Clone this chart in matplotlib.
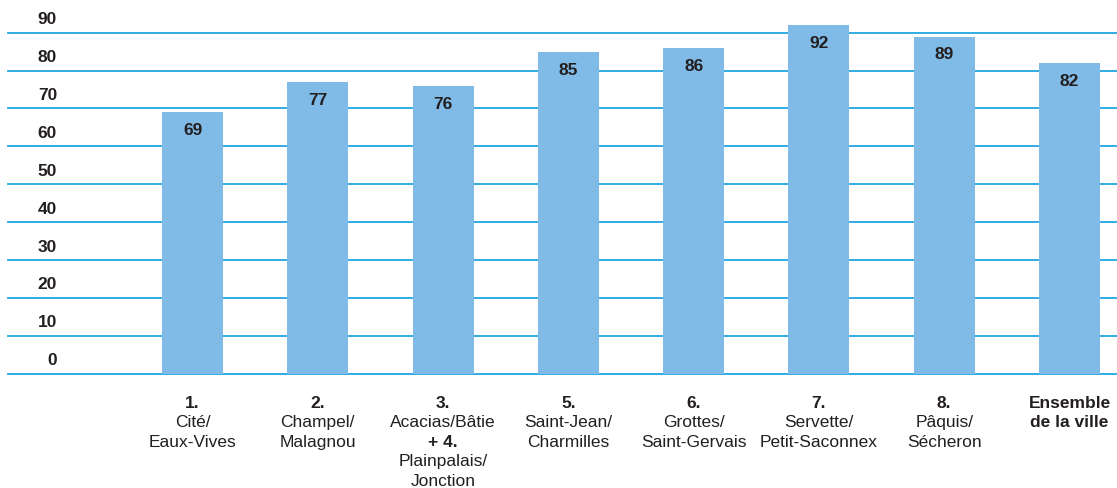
import matplotlib.pyplot as plt
from matplotlib.transforms import blended_transform_factory

plt.rcParams['font.family'] = ['Liberation Sans', 'DejaVu Sans']

# data
values = [69, 77, 76, 85, 86, 92, 89, 82]
heads = ["1.", "2.", "3.", "5.", "6.", "7.", "8.", "Ensemble"]
names = [
    ["Cité/", "Eaux-Vives"],
    ["Champel/", "Malagnou"],
    ["Acacias/Bâtie", "+ 4.", "Plainpalais/", "Jonction"],
    ["Saint-Jean/", "Charmilles"],
    ["Grottes/", "Saint-Gervais"],
    ["Servette/", "Petit-Saconnex"],
    ["Pâquis/", "Sécheron"],
    ["de la ville"],
]
bold_lines = {"+ 4.", "de la ville"}
yticks = [0, 10, 20, 30, 40, 50, 60, 70, 80, 90]

bar_color = '#7fbbe6'
grid_color = '#1fa6e0'
text_color = '#231f20'

fig = plt.figure(figsize=(11.17, 4.89), dpi=100)
ax = fig.add_axes([8 / 1117, 1 - 374.7 / 489, 1109 / 1117, 374.7 / 489])
ax.set_xlim(-1.473, 7.379)
ax.set_ylim(0, 98.9)
ax.axis('off')

# gridlines
for t in yticks:
    ax.axhline(t, color=grid_color, linewidth=1.3, zorder=1, clip_on=False)

x = list(range(len(values)))
ax.bar(x, values, width=0.487, color=bar_color, zorder=2)

# y labels sit a little above their gridline
tr = blended_transform_factory(ax.transAxes, ax.transData)
for t in yticks:
    ax.text(0.0442, t + 3.7, str(t), transform=tr, ha='right', va='center',
            fontsize=12.5, fontweight='bold', color=text_color)

# value labels inside the bars
for xi, v in zip(x, values):
    ax.annotate(str(v), (xi, v), xytext=(0, -12.5), textcoords='offset points',
                ha='center', va='center', fontsize=12.5, fontweight='bold',
                color=text_color, zorder=3)

# category labels
step = 5.15
for xi, head, lines in zip(x, heads, names):
    y0 = -7.5
    ax.text(xi, y0, head, ha='center', va='center', fontsize=12.5,
            fontweight='bold', color=text_color, clip_on=False)
    for k, line in enumerate(lines, start=1):
        ax.text(xi, y0 - k * step, line, ha='center', va='center', fontsize=12.5,
                fontweight='bold' if line in bold_lines else 'normal',
                color=text_color, clip_on=False)

fig.savefig('out.png', dpi=100)
